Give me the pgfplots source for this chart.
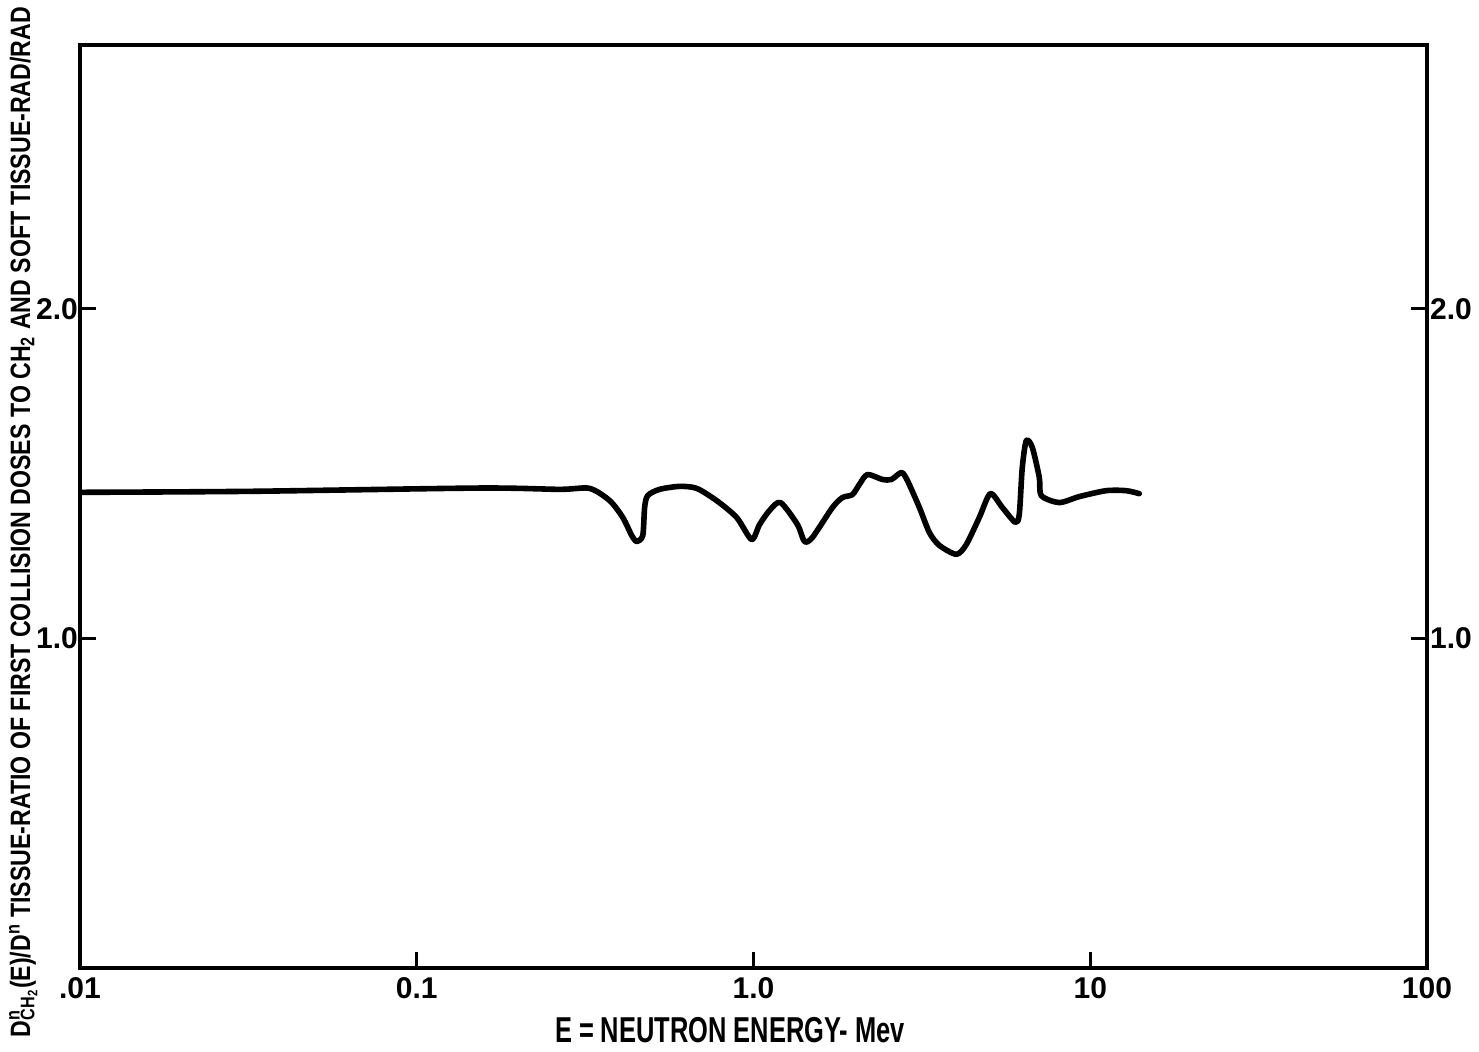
\documentclass[border=0pt]{standalone}
\usepackage{fontspec}
\setmainfont{Liberation Sans}
\usepackage{graphicx}
\usepackage{pgfplots}
\pgfplotsset{compat=1.18}
\pgfplotstableread{
E r
0.01 1.443
0.032 1.446
0.154 1.456
0.266 1.452
0.326 1.455
0.374 1.418
0.409 1.367
0.435 1.312
0.450 1.294
0.469 1.312
0.475 1.397
0.485 1.433
0.526 1.452
0.603 1.461
0.678 1.455
0.777 1.418
0.891 1.367
0.987 1.300
1.042 1.345
1.116 1.388
1.203 1.412
1.351 1.345
1.417 1.294
1.496 1.306
1.716 1.397
1.837 1.427
1.967 1.436
2.063 1.467
2.179 1.497
2.415 1.482
2.568 1.482
2.750 1.503
2.864 1.479
3.109 1.397
3.329 1.321
3.564 1.282
4.004 1.255
4.286 1.285
4.685 1.367
5.050 1.439
5.482 1.397
5.989 1.352
6.155 1.376
6.283 1.518
6.459 1.600
6.730 1.579
7.060 1.488
7.156 1.433
8.091 1.412
9.277 1.430
11.15 1.448
12.79 1.448
13.98 1.439
}\ratio
\begin{document}
\begin{tikzpicture}
\begin{axis}[
    at={(40pt,41.5pt)}, anchor=south west,
    scale only axis, width=673.5pt, height=461.5pt,
    xmode=log, xmin=0.01, xmax=100, ymin=0, ymax=2.8,
    ytick={1,2}, yticklabels={1.0,2.0},
    xtick={0.01,0.1,1,10,100}, xticklabels={.01,0.1,1.0,10,100},
    minor tick length=0pt, minor tick style={draw=none},
    xtick pos=left, ytick pos=left,
    tick align=inside, major tick length=8pt,
    tick style={line width=1.6pt, black},
    axis line style={line width=2pt},
    ticklabel style={font=\bfseries\fontsize{15}{15}\selectfont},
    xticklabel style={yshift=-1pt},
    yticklabel style={xshift=2.5pt},
]
\addplot[black, line width=2.8pt, smooth, tension=0.45, line join=round, line cap=round] table[x=E, y=r] {\ratio};
\end{axis}
\begin{axis}[
    at={(40pt,41.5pt)}, anchor=south west,
    scale only axis, width=673.5pt, height=461.5pt,
    xmin=0, xmax=1, ymin=0, ymax=2.8,
    axis x line=none, axis y line*=right,
    xtick=\empty,
    ytick={1,2}, yticklabels={1.0,2.0},
    tick align=inside, major tick length=8pt,
    tick style={line width=1.6pt, black},
    axis line style={line width=2pt},
    ticklabel style={font=\bfseries\fontsize{15}{15}\selectfont},
    yticklabel style={xshift=-2pt},
]
\end{axis}
\node[anchor=base, rotate=90, font=\bfseries\fontsize{14}{14}\selectfont] at (15pt,264.5pt)
  {\resizebox{515pt}{\height}{D\rlap{\textsuperscript{n}}\textsubscript{CH\textsubscript{2}}(E)/D\textsuperscript{n} TISSUE-RATIO OF FIRST COLLISION DOSES TO CH\textsubscript{2} AND SOFT TISSUE-RAD/RAD}};
\node[anchor=base, font=\bfseries\fontsize{18}{18}\selectfont] at (365pt,4.5pt)
  {\resizebox{175pt}{\height}{E = NEUTRON ENERGY- Mev}};
\pgfresetboundingbox
\path[use as bounding box] (0,0) rectangle (739.5pt,525.5pt);
\end{tikzpicture}
\end{document}
